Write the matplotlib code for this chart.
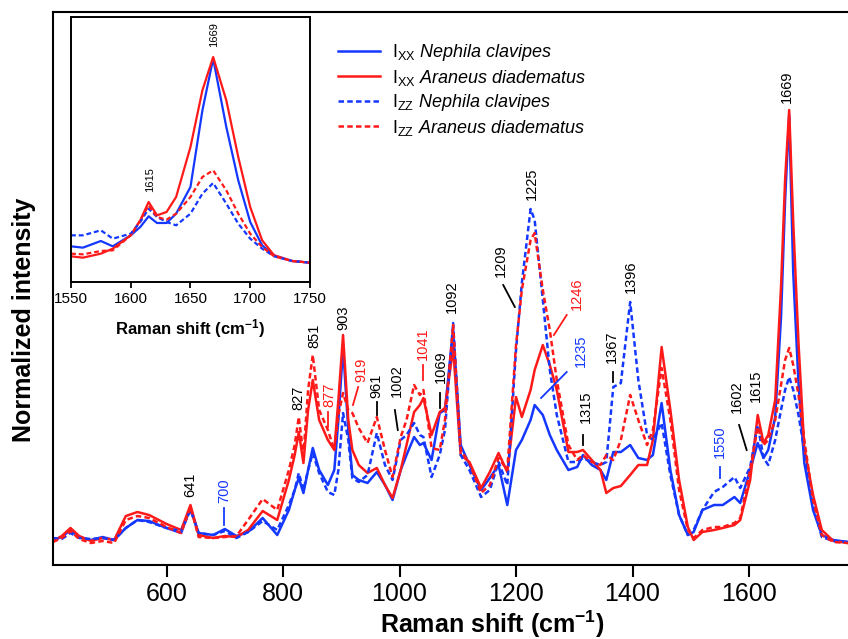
import matplotlib
matplotlib.use('Agg')
import matplotlib.pyplot as plt

plt.rcParams['font.family'] = ['Liberation Sans', 'DejaVu Sans']
plt.rcParams['mathtext.fontset'] = 'custom'
plt.rcParams['mathtext.rm'] = 'Liberation Sans'
plt.rcParams['mathtext.it'] = 'Liberation Sans:italic'
plt.rcParams['mathtext.bf'] = 'Liberation Sans:bold'

BLUE = '#1438ff'
RED = '#ff1a1a'
DASH = (0, (2.2, 1.3))

# main spectrum (Raman shift in cm-1, intensity in arbitrary units)
shift = [405, 420, 435, 450, 470, 490, 510, 530, 550, 570, 600, 625, 641, 655, 680,
         700, 720, 740, 765, 790, 810, 820, 827, 835, 843, 851, 862, 877, 888, 895,
         903, 912, 919, 930, 945, 961, 975, 988, 1002, 1012, 1025, 1035, 1041, 1055,
         1069, 1078, 1092, 1105, 1120, 1140, 1155, 1170, 1185, 1200, 1210, 1225, 1232,
         1246, 1258, 1270, 1290, 1305, 1315, 1330, 1345, 1355, 1367, 1380, 1396, 1410,
         1425, 1435, 1450, 1465, 1480, 1495, 1505, 1520, 1540, 1555, 1575, 1585, 1602,
         1615, 1625, 1633, 1645, 1655, 1662, 1669, 1676, 1685, 1695, 1710, 1725, 1745, 1770]
xx_nephila = [3, 6, 13, 6, 3, 6, 3, 15, 23, 22, 15, 10, 35, 10, 8,
              14, 7, 11, 25, 8, 33, 53, 65, 50, 73, 95, 73, 58, 73, 123,
              196, 113, 68, 63, 60, 71, 58, 43, 73, 88, 106, 98, 100, 83,
              130, 133, 213, 98, 78, 53, 65, 78, 38, 93, 103, 123, 138,
              128, 108, 93, 73, 76, 88, 78, 73, 63, 91, 91, 98, 85,
              83, 88, 140, 73, 28, 8, 11, 33, 38, 38, 46, 40, 73,
              100, 85, 93, 126, 226, 343, 428, 270, 160, 80, 33, 8, 3, 1]
xx_araneus = [2, 7, 15, 7, 2, 5, 3, 27, 31, 28, 19, 13, 38, 8, 5,
              7, 6, 13, 32, 23, 63, 88, 111, 80, 133, 163, 123, 103, 93, 143,
              208, 123, 93, 78, 70, 75, 58, 45, 73, 98, 131, 138, 145, 108,
              131, 135, 195, 88, 81, 55, 71, 90, 71, 146, 126, 153, 173,
              198, 178, 153, 91, 91, 93, 83, 73, 50, 55, 57, 68, 78,
              78, 103, 196, 133, 63, 16, 3, 11, 13, 15, 18, 23, 63,
              128, 100, 108, 143, 256, 363, 433, 320, 200, 95, 48, 13, 2, 0]
zz_nephila = [5, 4, 10, 5, 4, 5, 3, 15, 23, 21, 15, 12, 33, 10, 8,
              12, 5, 11, 22, 13, 38, 53, 70, 53, 73, 90, 70, 51, 48, 73,
              130, 103, 65, 61, 68, 110, 78, 63, 103, 108, 120, 108, 106, 66,
              88, 113, 220, 88, 73, 46, 53, 81, 58, 193, 260, 334, 323,
              243, 173, 128, 81, 81, 85, 81, 78, 81, 156, 160, 241, 163,
              108, 103, 120, 68, 28, 8, 13, 33, 51, 56, 66, 55, 76,
              118, 85, 78, 103, 133, 153, 166, 153, 128, 93, 38, 6, 2, 1]
zz_araneus = [1, 5, 12, 4, 0, 2, 0, 23, 27, 25, 16, 10, 36, 6, 5,
              6, 7, 23, 44, 33, 73, 98, 126, 88, 153, 188, 133, 113, 93, 128,
              150, 133, 130, 115, 100, 126, 93, 66, 106, 123, 158, 148, 153, 95,
              93, 123, 218, 93, 80, 50, 58, 85, 73, 198, 253, 303, 310,
              253, 213, 163, 98, 83, 88, 81, 78, 88, 83, 103, 148, 123,
              98, 113, 175, 123, 53, 13, 5, 13, 16, 16, 20, 25, 73,
              116, 98, 103, 123, 158, 183, 195, 178, 148, 103, 43, 8, 1, 0]

# inset, amide I region
inset_shift = [1550, 1560, 1575, 1585, 1600, 1608, 1615, 1622, 1630, 1638,
               1650, 1660, 1669, 1680, 1690, 1700, 1710, 1720, 1735, 1750]
in_xx_nephila = [49, 45, 65, 49, 82, 107, 139, 119, 119, 147,
                 227, 457, 612, 407, 247, 122, 52, 22, 5, 0]
in_xx_araneus = [19, 15, 27, 42, 82, 127, 182, 142, 152, 197,
                 347, 517, 617, 487, 317, 167, 67, 22, 5, 0]
in_zz_nephila = [82, 82, 97, 72, 87, 122, 162, 137, 122, 112,
                 147, 207, 239, 177, 117, 72, 42, 19, 5, 0]
in_zz_araneus = [27, 25, 35, 37, 82, 127, 172, 137, 129, 147,
                 197, 257, 277, 217, 147, 87, 47, 19, 5, 0]

# band labels: text, x, y of text bottom, colour, leader line (x0, y0, x1, y1)
bands = [
    ('641', 640, 46, 'k', None),
    ('700', 699, 40, BLUE, (699, 35, 699, 18)),
    ('827', 827, 133, 'k', None),
    ('851', 853, 195, 'k', None),
    ('877', 879, 136, RED, (877, 131, 877, 116)),
    ('903', 903, 213, 'k', None),
    ('919', 934, 161, RED, (929, 156, 920, 138)),
    ('961', 961, 145, 'k', (961, 141, 961, 128)),
    ('1002', 996, 146, 'k', (992, 133, 997, 113)),
    ('1041', 1040, 183, RED, (1040, 178, 1040, 163)),
    ('1069', 1071, 160, 'k', (1069, 150, 1069, 135)),
    ('1092', 1090, 230, 'k', None),
    ('1209', 1174, 266, 'k', (1178, 258, 1198, 236)),
    ('1225', 1227, 343, 'k', None),
    ('1246', 1305, 233, RED, (1287, 228, 1265, 208)),
    ('1235', 1311, 176, BLUE, (1287, 171, 1243, 145)),
    ('1315', 1320, 120, 'k', (1315, 108, 1315, 98)),
    ('1367', 1365, 180, 'k', (1366, 171, 1366, 161)),
    ('1396', 1397, 250, 'k', None),
    ('1550', 1550, 85, BLUE, (1550, 76, 1550, 65)),
    ('1602', 1579, 130, 'k', (1583, 118, 1596, 93)),
    ('1615', 1612, 141, 'k', None),
    ('1669', 1665, 440, 'k', None),
]
inset_bands = [('1615', 1616, 211), ('1669', 1670, 646)]

fig = plt.figure(figsize=(8.48, 6.39), dpi=100)
ax = fig.add_axes([0.0625, 0.1158, 0.9375, 0.8654])

series = [
    (xx_nephila, in_xx_nephila, BLUE, '-', r'I$_{\mathrm{XX}}$ $\mathit{Nephila\ clavipes}$'),
    (xx_araneus, in_xx_araneus, RED, '-', r'I$_{\mathrm{XX}}$ $\mathit{Araneus\ diadematus}$'),
    (zz_nephila, in_zz_nephila, BLUE, DASH, r'I$_{\mathrm{ZZ}}$ $\mathit{Nephila\ clavipes}$'),
    (zz_araneus, in_zz_araneus, RED, DASH, r'I$_{\mathrm{ZZ}}$ $\mathit{Araneus\ diadematus}$'),
]
for main_y, inset_y, col, ls, lab in series:
    ax.plot(shift, main_y, color=col, ls=ls, lw=1.8, label=lab)

for txt, x, y, col, line in bands:
    ax.text(x, y, txt, rotation=90, ha='center', va='bottom', color=col, fontsize=10.5)
    if line is not None:
        ax.plot([line[0], line[2]], [line[1], line[3]], color=col, lw=1.3)

ax.set_xlim(405, 1770)
ax.set_ylim(-22, 531)
ax.set_yticks([])
ax.set_xticks([600, 800, 1000, 1200, 1400, 1600])
ax.tick_params(axis='x', direction='out', length=8.5, width=1.5, labelsize=18, pad=4)
for side in ['left', 'bottom', 'top']:
    ax.spines[side].set_linewidth(1.5)
ax.spines['right'].set_visible(False)
ax.set_xlabel(r'Raman shift (cm$^{\mathbf{-1}}$)', fontsize=18, fontweight='bold')
ax.xaxis.set_label_coords(0.553, -0.078)
ax.set_ylabel('Normalized intensity', fontsize=18, fontweight='bold')
ax.yaxis.set_label_coords(-0.022, 0.443)

ax.legend(loc='upper left', bbox_to_anchor=(0.3986, 0.934), bbox_transform=fig.transFigure,
          frameon=False, fontsize=13, handlelength=2.3, handletextpad=0.7,
          labelspacing=0.25, borderpad=0, borderaxespad=0)

# inset
ins = fig.add_axes([0.0837, 0.5587, 0.2818, 0.4147])
for main_y, inset_y, col, ls, lab in series:
    ins.plot(inset_shift, inset_y, color=col, ls=ls, lw=1.6)
for txt, x, y in inset_bands:
    ins.text(x, y, txt, rotation=90, ha='center', va='bottom', fontsize=8)
ins.set_xlim(1550, 1750)
ins.set_ylim(-58, 737)
ins.set_yticks([])
ins.set_xticks([1550, 1600, 1650, 1700, 1750])
ins.tick_params(axis='x', direction='out', length=4.3, width=1.3, labelsize=11, pad=3)
for s in ins.spines.values():
    s.set_linewidth(1.4)
ins.set_xlabel(r'Raman shift (cm$^{\mathbf{-1}}$)', fontsize=12, fontweight='bold', labelpad=8)

fig.savefig('out.png', dpi=100)
